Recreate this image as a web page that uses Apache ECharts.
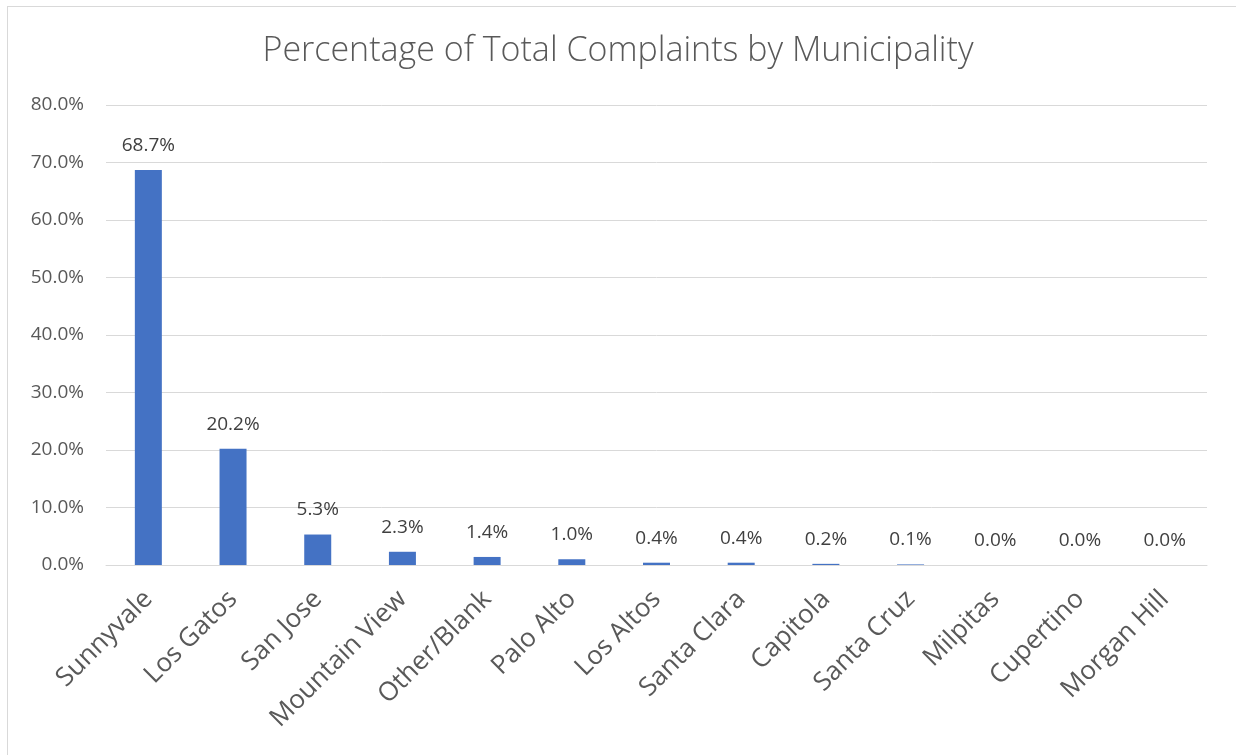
<!DOCTYPE html>
<html><head><meta charset="utf-8">
<script src="https://cdn.jsdelivr.net/npm/echarts@6/dist/echarts.min.js"></script>
<style>html,body{margin:0;padding:0;background:#fff}#c{width:1236px;height:755px}
#frame{position:absolute;left:7px;top:6px;width:1240px;height:760px;border:1px solid #d9d9d9;pointer-events:none}</style>
</head><body><div id="c"></div><div id="frame"></div>
<script>
const categories = ["Sunnyvale","Los Gatos","San Jose","Mountain View","Other/Blank","Palo Alto","Los Altos","Santa Clara","Capitola","Santa Cruz","Milpitas","Cupertino","Morgan Hill"];
const values = [68.7, 20.2, 5.3, 2.3, 1.4, 1.0, 0.4, 0.4, 0.2, 0.1, 0.0, 0.0, 0.0];
const yTicks = {min: 0, max: 80, interval: 10};
const titleText = "Percentage of Total Complaints by Municipality";

const chart = echarts.init(document.getElementById('c'));
chart.setOption({
  animation: false,
  title: {text: titleText, left: 'center', top: 29,
    textStyle: {fontFamily: 'Open Sans', fontWeight: 300, fontSize: 34, color: '#595959'}},
  grid: {left: 106, right: 29, top: 105, bottom: 190, containLabel: false},
  xAxis: {type: 'category', data: categories,
    axisLine: {lineStyle: {color: '#d9d9d9', width: 1}},
    axisTick: {show: false},
    axisLabel: {rotate: 45, interval: 0, margin: 30, fontFamily: 'Open Sans', fontSize: 26, color: '#595959'}},
  yAxis: {type: 'value', min: yTicks.min, max: yTicks.max, interval: yTicks.interval,
    axisLine: {show: false}, axisTick: {show: false},
    splitLine: {lineStyle: {color: '#d9d9d9', width: 1}},
    axisLabel: {margin: 22, fontFamily: 'Open Sans', fontSize: 19, color: '#595959',
      formatter: v => v.toFixed(1) + '%'}},
  series: [{type: 'bar', data: values, barWidth: 27,
    itemStyle: {color: '#4472C4'},
    label: {show: true, position: 'top', distance: 15, fontFamily: 'Open Sans', fontSize: 19, color: '#404040',
      formatter: p => p.value.toFixed(1) + '%'}}]
});
</script></body></html>
